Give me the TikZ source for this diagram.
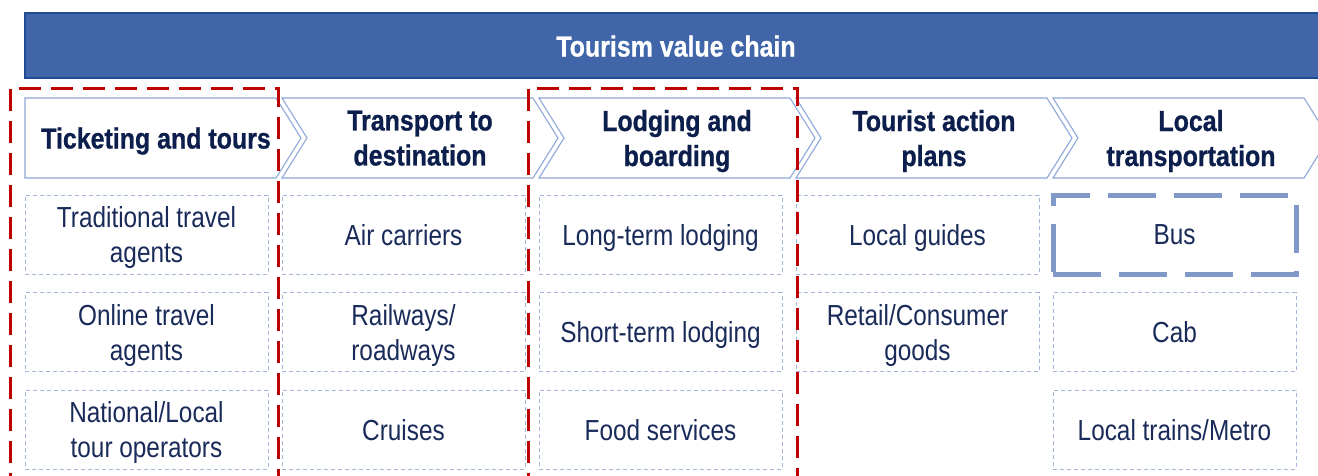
\documentclass[tikz,border=0pt]{standalone}
\usepackage{fontspec}
\setmainfont{Liberation Sans}[FakeStretch=0.84, BoldFeatures={FakeStretch=0.86, FakeBold=0.8}]
\definecolor{headfill}{HTML}{4066A9}
\definecolor{headline}{HTML}{1F4A94}
\definecolor{chevline}{HTML}{8EA8D8}
\definecolor{itemline}{HTML}{A3B5DC}
\definecolor{busline}{HTML}{8099C9}
\definecolor{navy}{HTML}{0C1E4C}
\definecolor{itemnavy}{HTML}{1A2B5A}
\definecolor{redc}{HTML}{C00000}
\begin{document}
\begin{tikzpicture}[x=1pt,y=-1pt,
  head/.style={fill=headfill, draw=headline, line width=2pt},
  chev/.style={draw=chevline, line width=1.1pt, fill=white, line join=miter},
  chevtext/.style={font=\bfseries\fontsize{29}{35}\selectfont, text=navy, align=center,
    inner sep=0pt, text depth=0pt},
  headtext/.style={font=\bfseries\fontsize{29}{35}\selectfont, text=white, inner sep=0pt,
    text depth=0pt},
  item/.style={draw=itemline, dash pattern=on 4pt off 3pt, line width=0.9pt,
    minimum width=243pt, minimum height=79pt, inner sep=0pt, align=center,
    text=itemnavy, font=\fontsize{29}{35}\selectfont, text depth=0pt},
  busbox/.style={item, draw=busline, line width=5pt, dash pattern=on 48pt off 18pt},
  redbox/.style={draw=redc, line width=3pt, dash pattern=on 22pt off 10pt}]
\clip (0,0) rectangle (1318,475);
\fill[white] (0,0) rectangle (1318,475);

% title bar
\draw[head] (25,13) rectangle (1330,78);
\node[headtext] (title) at (676,46) {Tourism value chain};

% chevron row: first one has a flat tail, the others a notch
\draw[chev] (25,98) -- (276,98) -- (301,138) -- (276,178) -- (25,178) -- cycle;
\foreach \L in {282,539,796,1053}{
  \draw[chev] (\L,98) -- ({\L+251},98) -- ({\L+276},138) -- ({\L+251},178)
    -- (\L,178) -- ({\L+25},138) -- cycle;
}
\node[chevtext] (s1) at (156,138) {Ticketing and tours};
\node[chevtext] (s2) at (420,138) {Transport to\\destination};
\node[chevtext] (s3) at (677,138) {Lodging and\\boarding};
\node[chevtext] (s4) at (934,138) {Tourist action\\plans};
\node[chevtext] (s5) at (1191,138) {Local\\transportation};

% column 1
\node[item] (a1) at (146.5,234.5) {Traditional travel\\agents};
\node[item] (a2) at (146.5,332) {Online travel\\agents};
\node[item] (a3) at (146.5,429.5) {National/Local\\tour operators};
% column 2
\node[item] (b1) at (403.5,234.5) {Air carriers};
\node[item] (b2) at (403.5,332) {Railways/\\roadways};
\node[item] (b3) at (403.5,429.5) {Cruises};
% column 3
\node[item] (c1) at (660.5,234.5) {Long-term lodging};
\node[item] (c2) at (660.5,332) {Short-term lodging};
\node[item] (c3) at (660.5,429.5) {Food services};
% column 4
\node[item] (d1) at (917.5,234.5) {Local guides};
\node[item] (d2) at (917.5,332) {Retail/Consumer\\goods};
% column 5
\node[busbox] (e1) at (1174.5,234.5) {Bus};
\node[item] (e2) at (1174.5,332) {Cab};
\node[item] (e3) at (1174.5,429.5) {Local trains/Metro};

% highlighted stages
\draw[redbox] (10,495) -- (10,88) -- (278,88) -- (278,495);
\draw[redbox] (528,495) -- (528,88) -- (797,88) -- (797,495);
\end{tikzpicture}
\end{document}
